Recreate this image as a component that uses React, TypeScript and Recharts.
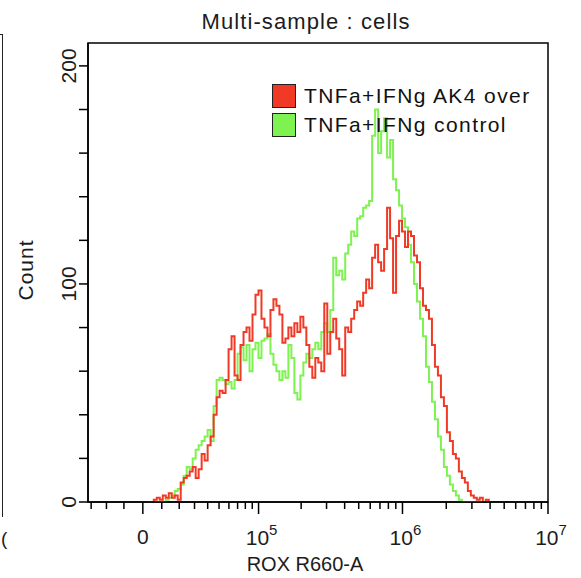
import { LineChart, Line, XAxis, YAxis, ReferenceArea } from "recharts";

// histogram bins, in display channels (1 channel = 1 px of the original plot width)
const BIN_START = 60;
const BIN_WIDTH = 3;

const AK4_OVER = [
  0, 0, 1, 2, 1, 3, 2, 4, 2, 3,
  1, 9, 11, 12, 14, 16, 11, 15, 22, 19,
  26, 30, 40, 48, 51, 50, 56, 70, 76, 58,
  56, 72, 78, 80, 74, 86, 95, 97, 84, 80,
  76, 88, 93, 90, 86, 73, 75, 80, 76, 82,
  78, 85, 80, 72, 62, 57, 66, 64, 60, 91,
  68, 78, 84, 75, 70, 58, 80, 78, 84, 88,
  92, 90, 96, 102, 98, 112, 118, 110, 106, 116,
  135, 121, 96, 122, 129, 124, 117, 124, 122, 113,
  110, 98, 90, 88, 84, 72, 62, 58, 48, 44,
  32, 28, 22, 20, 14, 11, 9, 5, 3, 2,
  1, 2, 0, 1, 0,
];

const CONTROL = [
  0, 0, 0, 0, 0, 0, 1, 2, 3, 5,
  6, 8, 12, 16, 15, 20, 24, 26, 28, 30,
  33, 28, 44, 56, 57, 56, 54, 55, 52, 56,
  68, 71, 65, 72, 60, 70, 73, 66, 74, 75,
  77, 68, 63, 60, 56, 60, 57, 72, 66, 50,
  47, 58, 64, 68, 66, 70, 73, 70, 78, 82,
  78, 88, 112, 104, 106, 102, 114, 118, 124, 122,
  130, 131, 135, 136, 138, 168, 180, 160, 170, 176,
  158, 166, 148, 143, 136, 130, 126, 118, 110, 100,
  92, 84, 76, 62, 55, 46, 38, 30, 24, 16,
  12, 8, 5, 3, 1, 0, 0, 0, 0, 0,
  0, 0, 0, 0, 0,
];

const SERIES_NAMES = ["TNFa+IFNg AK4 over", "TNFa+IFNg control"];
const SERIES_COLORS = ["#f03a26", "#7ef250"];

const X_MAJOR = [0, 1e5, 1e6, 1e7];
const X_MAJOR_LABELS = ["0", "5", "6", "7"];
const X_MINOR = [
  -3e4, -2e4, -1e4,
  1e4, 2e4, 3e4, 4e4, 5e4, 6e4, 7e4, 8e4, 9e4,
  2e5, 3e5, 4e5, 5e5, 6e5, 7e5, 8e5, 9e5,
  2e6, 3e6, 4e6, 5e6, 6e6, 7e6, 8e6, 9e6,
];
const Y_TICKS = [0, 20, 40, 60, 80, 100, 120, 140, 160, 180, 200];
const Y_LABELED = [0, 100, 200];
const Y_MAX = 210.5;

// biexponential-like display transform (linear near 0, log above ~1e5)
const W = 32900;
const toChannel = (v: number) => 55 + 63.4 * Math.asinh(v / W);
const X_MAX = toChannel(1e7);

const FONT = "'Liberation Sans', Arial, sans-serif";
const INK = "#1c1c1c";

const data = AK4_OVER.map((v, i) => ({
  ch: BIN_START + i * BIN_WIDTH,
  over: v,
  control: CONTROL[i],
}));

const majorByChannel = new Map(X_MAJOR.map((v, i) => [toChannel(v).toFixed(3), X_MAJOR_LABELS[i]]));
const xTicks = [...X_MAJOR, ...X_MINOR].map(toChannel).sort((a, b) => a - b);

function XTick({ x, y, payload }: any) {
  const label = majorByChannel.get(Number(payload.value).toFixed(3));
  if (label === undefined) {
    return <line x1={x} x2={x} y1={y} y2={y + 7} stroke="#000" strokeWidth={1.5} />;
  }
  return (
    <g>
      <line x1={x} x2={x} y1={y} y2={y + 12} stroke="#000" strokeWidth={1.5} />
      {label === "0" ? (
        <text x={x} y={y + 42} textAnchor="middle" fontSize={21} fill={INK} fontFamily={FONT}>
          0
        </text>
      ) : (
        <text x={x + 3} y={y + 43} textAnchor="middle" fontSize={21} fill={INK} fontFamily={FONT}>
          10
          <tspan dy={-10} fontSize={15}>{label}</tspan>
        </text>
      )}
    </g>
  );
}

function YTick({ x, y, payload }: any) {
  const labeled = Y_LABELED.includes(payload.value);
  const tx = x - 12;
  return (
    <g>
      <line x1={x - 9} x2={x} y1={y} y2={y} stroke="#000" strokeWidth={1.5} />
      {labeled && (
        <text
          x={tx}
          y={y}
          textAnchor="middle"
          fontSize={21}
          fill={INK}
          fontFamily={FONT}
          transform={`rotate(-90 ${tx} ${y})`}
        >
          {payload.value}
        </text>
      )}
    </g>
  );
}

function LegendBox() {
  return (
    <div
      style={{
        position: "absolute",
        left: 272,
        top: 81,
        fontFamily: FONT,
        fontSize: 21,
        color: "#111",
        lineHeight: "29px",
      }}
    >
      {SERIES_NAMES.map((name, i) => (
        <div key={name} style={{ display: "flex", alignItems: "center", whiteSpace: "nowrap" }}>
          <span
            style={{
              display: "inline-block",
              width: 22,
              height: 22,
              background: SERIES_COLORS[i],
              border: "1.5px solid #222",
              marginRight: 8,
            }}
          />
          <span style={{ letterSpacing: 1.4 }}>{name}</span>
        </div>
      ))}
    </div>
  );
}

export default function App() {
  return (
    <div style={{ position: "absolute", left: 0, top: 0, width: 581, height: 578, background: "#fff", overflow: "hidden" }}>
      {/* edge of the neighbouring panel */}
      <div style={{ position: "absolute", left: 0, top: 34, width: 2, height: 482, borderRight: "1.5px solid #222", borderTop: "1.5px solid #222" }} />
      <div style={{ position: "absolute", left: 1, top: 528, fontFamily: FONT, fontSize: 19, color: INK }}>(</div>
      <div
        style={{
          position: "absolute",
          left: 0,
          width: 612,
          top: 9,
          textAlign: "center",
          fontFamily: FONT,
          fontSize: 22,
          letterSpacing: 1.1,
          color: INK,
        }}
      >
        Multi-sample : cells
      </div>
      <LineChart
        width={581}
        height={578}
        data={data}
        margin={{ top: 43, right: 33, bottom: 0, left: 0 }}
        style={{ position: "absolute", left: 0, top: 0 }}
      >
        <XAxis
          dataKey="ch"
          type="number"
          domain={[0, X_MAX]}
          ticks={xTicks}
          interval={0}
          tick={<XTick />}
          tickLine={false}
          tickSize={0}
          tickMargin={0}
          height={76}
          axisLine={{ stroke: "#000", strokeWidth: 1.5 }}
          allowDataOverflow
          label={() => (
            <text x={305} y={571} textAnchor="middle" fontSize={20} fill={INK} fontFamily={FONT}>
              ROX R660-A
            </text>
          )}
        />
        <YAxis
          type="number"
          domain={[0, Y_MAX]}
          ticks={Y_TICKS}
          interval={0}
          tick={<YTick />}
          tickLine={false}
          tickSize={0}
          tickMargin={0}
          width={88}
          axisLine={{ stroke: "#000", strokeWidth: 1.5 }}
          allowDataOverflow
          label={() => (
            <text
              x={33}
              y={270}
              textAnchor="middle"
              fontSize={21}
              fill={INK}
              fontFamily={FONT}
              letterSpacing={1}
              transform="rotate(-90 33 270)"
            >
              Count
            </text>
          )}
        />
        <ReferenceArea x1={0} x2={X_MAX} y1={0} y2={Y_MAX} fill="none" stroke="#000" strokeWidth={1.5} ifOverflow="visible" />
        <Line
          dataKey="control"
          name={SERIES_NAMES[1]}
          type="stepAfter"
          stroke={SERIES_COLORS[1]}
          strokeWidth={2}
          dot={false}
          isAnimationActive={false}
        />
        <Line
          dataKey="over"
          name={SERIES_NAMES[0]}
          type="stepAfter"
          stroke={SERIES_COLORS[0]}
          strokeWidth={2}
          dot={false}
          isAnimationActive={false}
        />
      </LineChart>
      <LegendBox />
    </div>
  );
}
